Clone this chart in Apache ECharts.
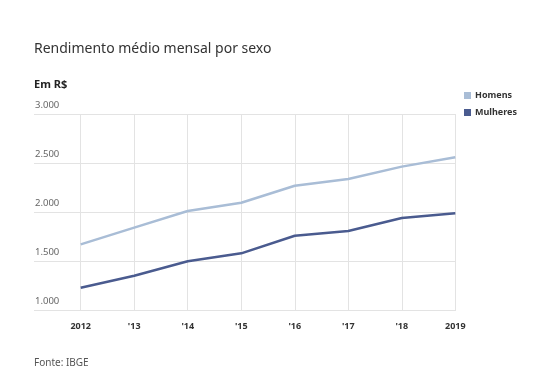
<!DOCTYPE html>
<html><head><meta charset="utf-8">
<script src="https://cdn.jsdelivr.net/npm/echarts@6/dist/echarts.min.js"></script>
<style>html,body{margin:0;padding:0;background:#fff}#c{width:544px;height:392px}</style>
</head><body><div id="c"></div>
<script>
const years = ['2012', "'13", "'14", "'15", "'16", "'17", "'18", '2019'];
const homens = [1670, 1840, 2010, 2095, 2268, 2337, 2463, 2558];
const mulheres = [1228, 1350, 1497, 1578, 1758, 1806, 1939, 1987];
const yTicks = { min: 1000, max: 3000, interval: 500 };
const FONT = '"Noto Sans", sans-serif';
const chart = echarts.init(document.getElementById('c'));
const fmt = v => String(v).replace(/\B(?=(\d{3})+(?!\d))/g, '.');
chart.setOption({
  animation: false,
  textStyle: { fontFamily: FONT },
  title: [
    { text: 'Rendimento médio mensal por sexo', left: 29, top: 37,
      textStyle: { fontFamily: FONT, fontSize: 14, fontWeight: 'normal', color: '#333' } },
    { text: 'Em R$', left: 29, top: 74,
      textStyle: { fontFamily: FONT, fontSize: 11, fontWeight: 'bold', color: '#222' } },
    { text: 'Fonte: IBGE', left: 29, top: 353,
      textStyle: { fontFamily: FONT, fontSize: 10, fontWeight: 'normal', color: '#555' } }
  ],
  legend: {
    orient: 'vertical', left: 464, top: 91, padding: 0, itemWidth: 7, itemHeight: 7, itemGap: 8,
    icon: 'rect',
    textStyle: { fontFamily: FONT, fontSize: 9, fontWeight: 'bold', color: '#333', padding: [0, 0, 0, -1] },
    data: ['Homens', 'Mulheres']
  },
  grid: [
    { left: 34, right: 88, top: 114, bottom: 82 },
    { left: 80.7, right: 88.7, top: 114, bottom: 82 }
  ],
  xAxis: [
    { gridIndex: 0, type: 'value', show: false, min: 0, max: 1 },
    { gridIndex: 1, type: 'category', data: years, boundaryGap: false,
      axisLine: { show: false }, axisTick: { show: false },
      splitLine: { show: true, lineStyle: { color: '#e3e3e3', width: 1 } },
      axisLabel: { margin: 12, fontFamily: FONT, fontSize: 9, fontWeight: 'bold', color: '#333' } }
  ],
  yAxis: [
    { gridIndex: 0, type: 'value', min: yTicks.min, max: yTicks.max, interval: yTicks.interval,
      axisLine: { show: false }, axisTick: { show: false },
      splitLine: { show: true, lineStyle: { color: '#e3e3e3', width: 1 } },
      axisLabel: { inside: true, margin: 1, verticalAlign: 'bottom', padding: [0, 0, 4, 0],
        fontFamily: FONT, fontSize: 9.5, color: '#666', formatter: fmt } },
    { gridIndex: 1, type: 'value', min: yTicks.min, max: yTicks.max, interval: yTicks.interval, show: false }
  ],
  series: [
    { name: 'Homens', type: 'line', xAxisIndex: 1, yAxisIndex: 1, data: homens,
      symbol: 'none', lineStyle: { color: '#a9bdd6', width: 2.5 }, itemStyle: { color: '#a9bdd6' } },
    { name: 'Mulheres', type: 'line', xAxisIndex: 1, yAxisIndex: 1, data: mulheres,
      symbol: 'none', lineStyle: { color: '#4a5b8f', width: 2.5 }, itemStyle: { color: '#4a5b8f' } }
  ]
});
</script></body></html>
